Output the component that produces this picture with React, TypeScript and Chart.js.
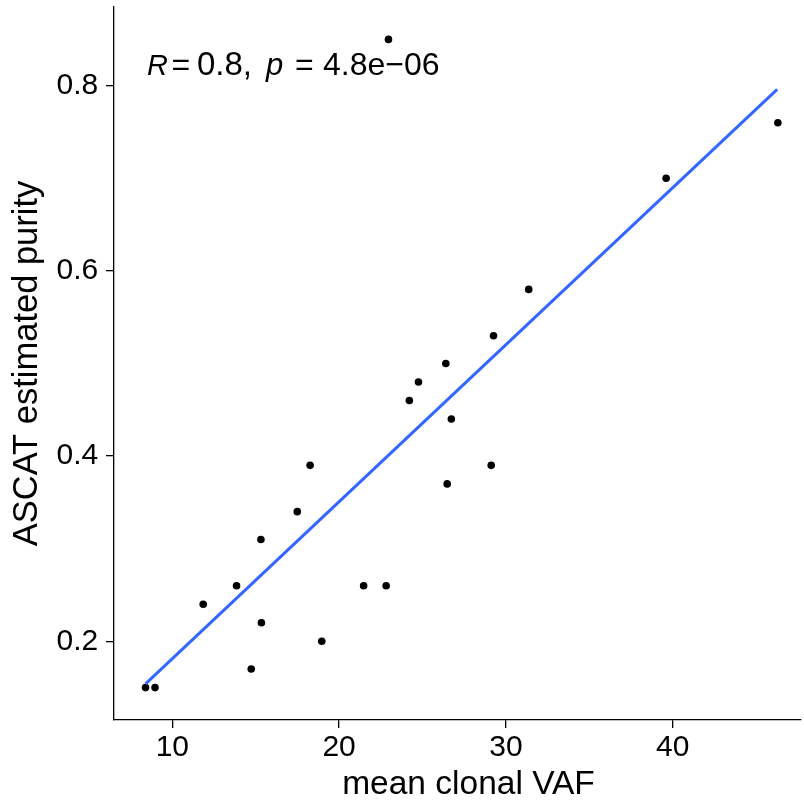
import React, { useEffect, useRef } from 'react';
import { Chart, registerables } from 'chart.js';

Chart.register(...registerables);

const FONT = '"Liberation Sans", Arial, Helvetica, sans-serif';

// mean clonal VAF (x) and ASCAT estimated purity (y)
const vafValues = [
  8.39, 8.96, 11.85, 13.85, 15.31, 15.34, 14.73, 17.49, 18.26, 18.96, 21.47, 22.82,
  22.96, 24.21, 24.76, 26.4, 26.73, 26.48, 29.12, 29.26, 31.37, 39.61, 46.31,
];
const purityValues = [
  0.15, 0.15, 0.24, 0.26, 0.31, 0.22, 0.17, 0.34, 0.39, 0.2, 0.26, 0.26,
  0.85, 0.46, 0.48, 0.5, 0.44, 0.37, 0.39, 0.53, 0.58, 0.7, 0.76,
];

// regression line end points
const fitX = [8.39, 46.27];
const fitY = [0.154, 0.796];

const xTicks = [10, 20, 30, 40];
const yTicks = [0.2, 0.4, 0.6, 0.8];
const xRange = [6.5, 47.65];
const yRange = [0.115, 0.885];

const xTitle = 'mean clonal VAF';
const yTitle = 'ASCAT estimated purity';
const corrParts = [
  { text: 'R', italic: true, size: 29, x: 147 },
  { text: '=', italic: false, size: 32, x: 171.5 },
  { text: '0.8,', italic: false, size: 33, x: 197 },
  { text: 'p', italic: true, size: 31, x: 266 },
  { text: '=', italic: false, size: 32, x: 295 },
  { text: '4.8e\u221206', italic: false, size: 32, x: 323 },
];

const textPlugin = {
  id: 'extraText',
  afterDraw(chart: any) {
    const ctx: CanvasRenderingContext2D = chart.ctx;
    ctx.save();
    ctx.fillStyle = '#000';
    ctx.textBaseline = 'alphabetic';
    // correlation annotation
    ctx.textAlign = 'left';
    for (const p of corrParts) {
      ctx.font = `${p.italic ? 'italic ' : ''}${p.size}px ${FONT}`;
      ctx.fillText(p.text, p.x, 75);
    }
    // x axis title
    ctx.textAlign = 'center';
    ctx.font = `33.5px ${FONT}`;
    ctx.fillText(xTitle, 468.5, 794);
    ctx.restore();
  },
};

export default function App() {
  const ref = useRef<HTMLCanvasElement>(null);

  useEffect(() => {
    const canvas = ref.current;
    if (!canvas) return;
    const chart = new Chart(canvas, {
      type: 'scatter',
      data: {
        datasets: [
          {
            label: 'fit',
            data: fitX.map((x, i) => ({ x, y: fitY[i] })),
            showLine: true,
            borderColor: '#3366FF',
            borderWidth: 3,
            pointRadius: 0,
            pointHoverRadius: 0,
            fill: false,
          } as any,
          {
            label: 'samples',
            data: vafValues.map((x, i) => ({ x, y: purityValues[i] })),
            pointRadius: 3.8,
            pointHoverRadius: 3.8,
            backgroundColor: '#000',
            borderColor: '#000',
            borderWidth: 0,
          },
        ],
      },
      options: {
        responsive: false,
        animation: false,
        devicePixelRatio: 1,
        events: [],
        layout: { padding: { top: 7, left: 0, right: 0, bottom: 0 } },
        plugins: {
          legend: { display: false },
          tooltip: { enabled: false },
        },
        scales: {
          x: {
            type: 'linear',
            position: 'bottom',
            min: xRange[0],
            max: xRange[1],
            afterBuildTicks: (s: any) => {
              s.ticks = xTicks.map((v) => ({ value: v }));
            },
            afterFit: (s: any) => {
              s.height = 87;
              s.paddingLeft = 0;
              s.paddingRight = 0;
            },
            ticks: {
              font: { family: FONT, size: 30 },
              color: '#000',
              padding: 2,
              maxRotation: 0,
              autoSkip: false,
              callback: (v: any) => String(v),
            },
            grid: {
              drawOnChartArea: false,
              drawTicks: true,
              tickLength: 8,
              color: '#000',
              lineWidth: 1.3,
            },
            border: { display: true, color: '#000', width: 1.3 },
          },
          y: {
            type: 'linear',
            position: 'left',
            min: yRange[0],
            max: yRange[1],
            afterBuildTicks: (s: any) => {
              s.ticks = yTicks.map((v) => ({ value: v }));
            },
            afterFit: (s: any) => {
              s.width = 114;
              s.paddingTop = 0;
              s.paddingBottom = 0;
            },
            ticks: {
              font: { family: FONT, size: 30 },
              color: '#000',
              padding: 7.7,
              autoSkip: false,
              callback: (v: any) => Number(v).toFixed(1),
            },
            grid: {
              drawOnChartArea: false,
              drawTicks: true,
              tickLength: 8,
              color: '#000',
              lineWidth: 1.3,
            },
            border: { display: true, color: '#000', width: 1.3 },
            title: {
              display: true,
              text: yTitle,
              color: '#000',
              font: { family: FONT, size: 34.5 },
              padding: { top: 7, bottom: 0 },
            },
          },
        },
      } as any,
      plugins: [textPlugin],
    });
    return () => chart.destroy();
  }, []);

  return (
    <div style={{ position: 'absolute', left: 0, top: 0, width: 804, height: 807, background: '#fff' }}>
      <canvas ref={ref} width={804} height={807} style={{ display: 'block' }} />
    </div>
  );
}
